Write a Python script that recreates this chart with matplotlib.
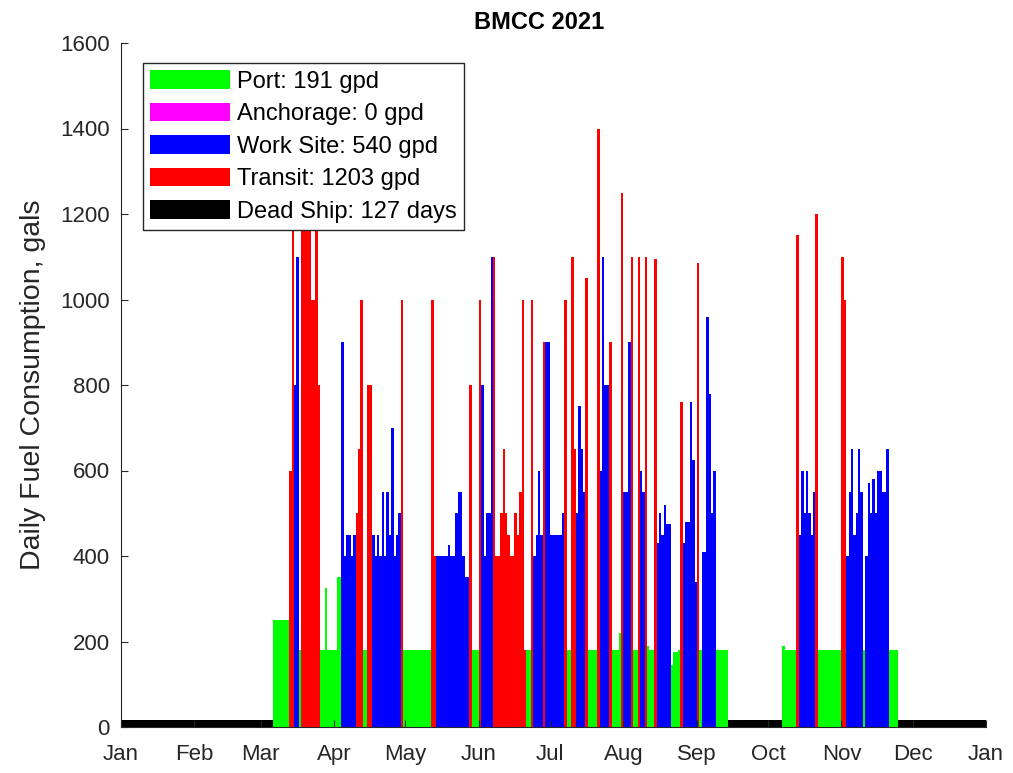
import matplotlib
matplotlib.use("Agg")
import matplotlib.pyplot as plt
import numpy as np
from matplotlib.patches import Patch

# Daily record for 2021 as runs: mode code, number of days, gallons per day.
# Day 0 = Jan 1. D = dead ship, P = port, W = work site, T = transit.
run_mode = [
    "D", "P", "T", "T", "W", "W", "P", "T", "T", "T", "T",
    "P", "P", "P", "P", "W", "W", "W", "W", "W", "T", "T", "T", "P", "T",
    "W", "W", "W", "W", "W", "W", "W", "W", "W", "W", "W", "W",
    "T", "P", "T", "T", "W", "W", "W", "W", "W", "W", "W",
    "T", "P", "T", "W", "W", "W", "W", "T",
    "T", "T", "T", "T", "T", "T", "T", "T", "T", "T", "T",
    "P", "T", "W", "W", "W", "W", "T", "W", "W", "W", "T", "P", "T", "T",
    "W", "W", "W", "W", "T", "P", "T", "W", "W", "W", "T", "P", "P", "T",
    "W", "W", "T", "P", "T", "W", "W", "T", "P", "P", "T",
    "W", "W", "W", "W", "W", "P", "P", "P", "T",
    "W", "W", "W", "W", "W", "T", "P", "W", "W", "W", "W", "W", "P",
    "D", "P", "P", "T", "W", "W", "W", "W", "W", "W", "W", "T", "P", "T", "T",
    "W", "W", "W", "W", "W", "W", "W", "P",
    "W", "W", "W", "W", "W", "W", "W", "W", "P", "D",
]
run_days = [
    64, 7, 1, 1, 1, 1, 1, 4, 2, 1, 1,
    2, 1, 4, 2, 1, 1, 2, 1, 1, 1, 1, 1, 2, 2,
    1, 1, 1, 1, 1, 1, 1, 1, 1, 1, 1, 1,
    1, 12, 1, 1, 5, 1, 2, 1, 2, 1, 2,
    1, 3, 1, 1, 1, 2, 1, 1,
    2, 1, 1, 1, 1, 2, 1, 1, 1, 1, 1,
    2, 1, 1, 1, 1, 1, 1, 2, 5, 1, 1, 2, 1, 1,
    1, 1, 1, 1, 1, 4, 1, 1, 1, 2, 1, 3, 1, 1,
    2, 1, 1, 2, 1, 1, 1, 1, 1, 2, 1,
    1, 1, 1, 1, 2, 1, 2, 1, 1,
    1, 2, 1, 1, 1, 1, 1, 2, 1, 1, 1, 1, 5,
    23, 1, 5, 1, 1, 1, 1, 1, 1, 1, 1, 1, 10, 1, 1,
    1, 1, 1, 1, 1, 1, 1, 1,
    1, 1, 1, 1, 1, 2, 2, 1, 4, 38,
]
run_gals = [
    16, 250, 600, 1250, 800, 1100, 180, 1250, 1000, 1250, 800,
    180, 325, 180, 350, 900, 400, 450, 400, 450, 500, 650, 1000, 180, 800,
    450, 400, 450, 400, 550, 400, 550, 450, 700, 400, 450, 500,
    1000, 180, 1000, 400, 400, 425, 400, 500, 550, 400, 350,
    800, 180, 1000, 800, 400, 500, 1100, 1100,
    400, 500, 650, 500, 450, 400, 500, 450, 550, 1000, 180,
    180, 1000, 400, 450, 600, 450, 900, 900, 450, 500, 1000, 180, 1100, 650,
    500, 750, 650, 550, 1050, 180, 1400, 600, 1100, 800, 900, 180, 220, 1250,
    550, 900, 1100, 180, 1100, 600, 550, 1100, 190, 180, 1095,
    430, 500, 450, 520, 475, 145, 175, 180, 760,
    430, 480, 760, 625, 340, 1085, 180, 410, 960, 780, 500, 600, 180,
    16, 190, 180, 1150, 450, 600, 500, 600, 500, 450, 550, 1200, 180, 1100, 1000,
    400, 550, 650, 450, 500, 650, 550, 180,
    400, 570, 500, 580, 500, 600, 550, 650, 180, 16,
]

modes = ["P", "A", "W", "T", "D"]
mode_labels = ["Port: 191 gpd", "Anchorage: 0 gpd", "Work Site: 540 gpd",
               "Transit: 1203 gpd", "Dead Ship: 127 days"]
mode_colors = ["#00ff00", "#ff00ff", "#0000ff", "#ff0000", "#000000"]

month_ticks = [0, 31, 59, 90, 120, 151, 181, 212, 243, 273, 304, 334, 365]
month_labels = ["Jan", "Feb", "Mar", "Apr", "May", "Jun", "Jul", "Aug",
                "Sep", "Oct", "Nov", "Dec", "Jan"]

day_mode = np.repeat(run_mode, run_days)
day_gals = np.repeat(run_gals, run_days)
days = np.arange(len(day_gals))

plt.rcParams["font.family"] = ["Liberation Sans", "DejaVu Sans"]
fig = plt.figure(figsize=(10.13, 7.73), dpi=100)
ax = fig.add_axes([121 / 1013, 46 / 773, 865 / 1013, 684 / 773])

# one bar series per mode, drawn in legend order like the original
for m, c in zip(modes, mode_colors):
    sel = day_mode == m
    if sel.any():
        ax.bar(days[sel], day_gals[sel], width=1.0, align="edge",
               color=c, linewidth=0)

ax.set_xlim(0, 365)
ax.set_ylim(0, 1600)
ax.set_xticks(month_ticks)
ax.set_xticklabels(month_labels)
ax.set_yticks(range(0, 1601, 200))
for s in ["top", "right"]:
    ax.spines[s].set_visible(False)
for s in ["left", "bottom"]:
    ax.spines[s].set_color("#262626")
ax.tick_params(direction="in", length=5, labelsize=16, colors="#262626")
ax.tick_params(axis="x", pad=12)
ax.tick_params(axis="y", pad=8)
ax.set_ylabel("Daily Fuel Consumption, gals", fontsize=20.5,
              color="#262626", labelpad=10)
ax.set_title("BMCC 2021", fontsize=17, fontweight="bold", pad=10,
             x=(539 - 121) / 865)

handles = [Patch(facecolor=c, edgecolor="none") for c in mode_colors]
leg = ax.legend(handles, mode_labels, loc="upper left",
                bbox_to_anchor=(22 / 865, 1 - 20 / 684), borderaxespad=0,
                fontsize=17, handlelength=3.4, handleheight=0.85,
                handletextpad=0.28, labelspacing=0.42, borderpad=0.3,
                fancybox=False, framealpha=1, edgecolor="#262626")
leg.get_frame().set_linewidth(1.0)

fig.savefig("out.png", dpi=100)
